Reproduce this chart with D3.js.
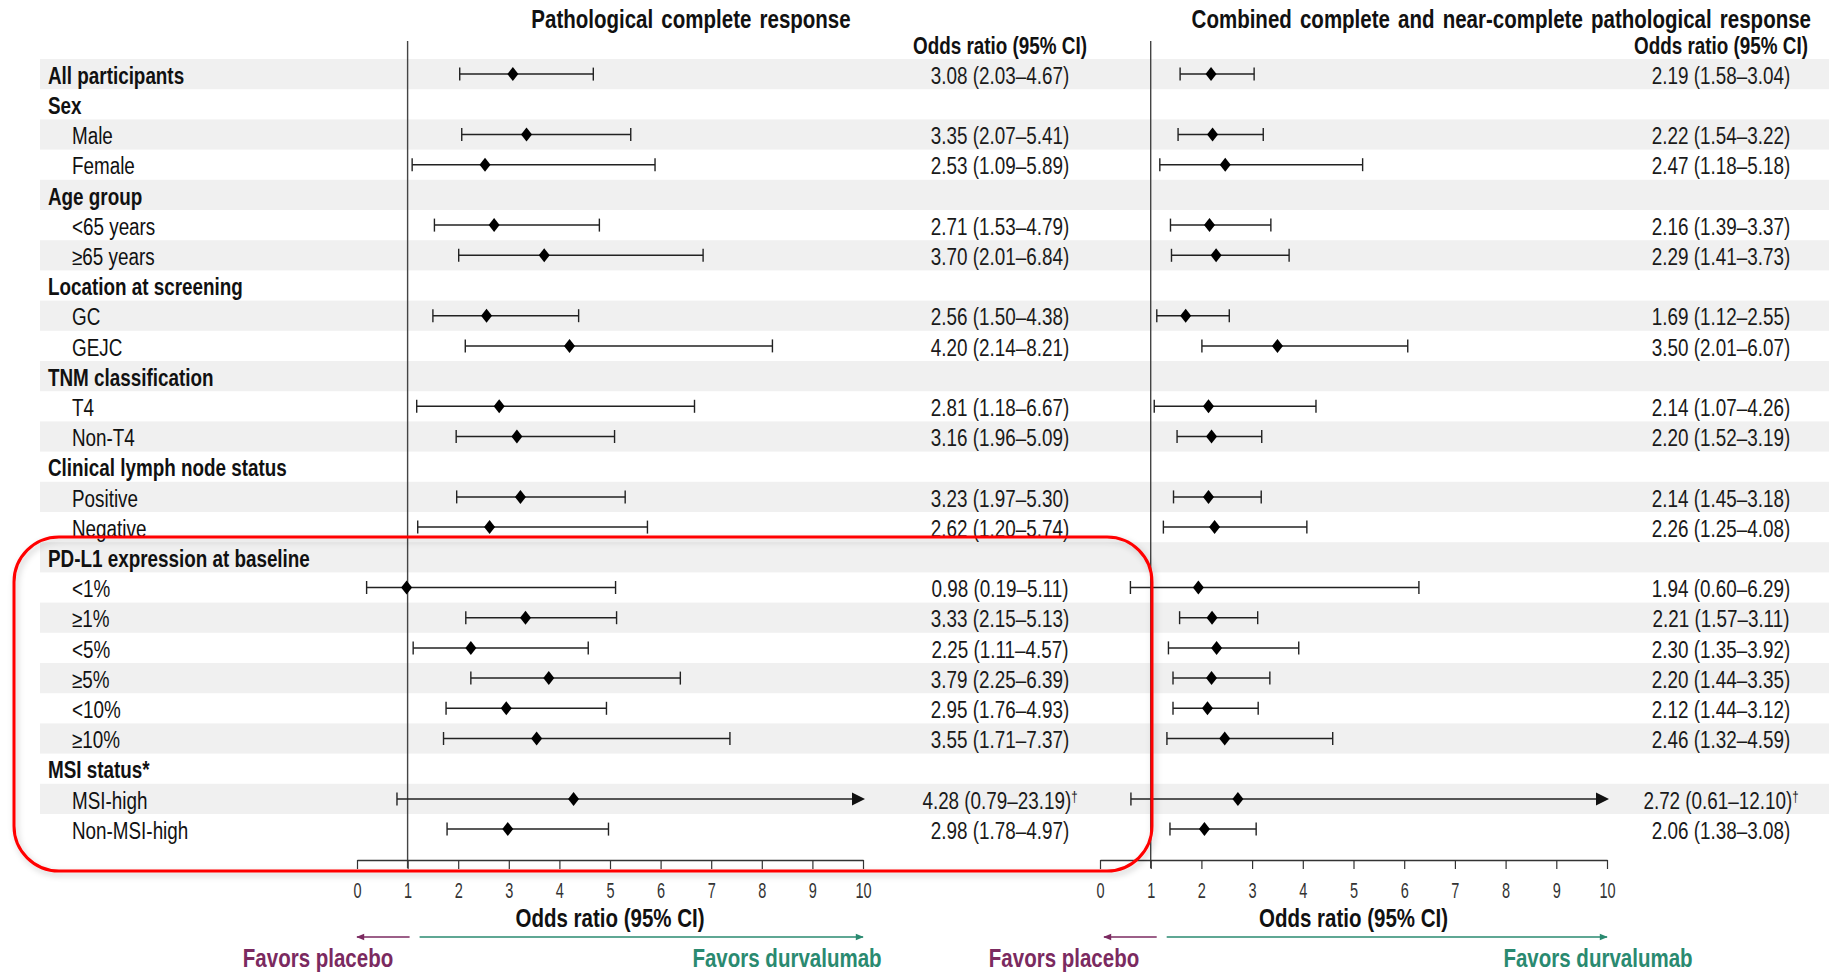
<!DOCTYPE html>
<html>
<head>
<meta charset="utf-8">
<script src="https://cdn.jsdelivr.net/npm/d3@7"></script>
<style>
  html, body { margin: 0; padding: 0; background: #fff; }
  svg { display: block; }
</style>
</head>
<body>
<svg id="chart" width="1829" height="975"></svg>
<script>
// Subgroup labels, one per row (header rows have no estimate)
const rowLabels = [
  "All participants", "Sex", "Male", "Female", "Age group", "<65 years", "\u226565 years",
  "Location at screening", "GC", "GEJC", "TNM classification", "T4", "Non-T4",
  "Clinical lymph node status", "Positive", "Negative", "PD-L1 expression at baseline",
  "<1%", "\u22651%", "<5%", "\u22655%", "<10%", "\u226510%", "MSI status*", "MSI-high", "Non-MSI-high"
];
const headerRows = [true, true, false, false, true, false, false, true, false, false, true, false, false,
  true, false, false, true, false, false, false, false, false, false, true, false, false];

// Pathological complete response: odds ratio and 95% CI
const pcrOR   = [3.08, null, 3.35, 2.53, null, 2.71, 3.70, null, 2.56, 4.20, null, 2.81, 3.16,
  null, 3.23, 2.62, null, 0.98, 3.33, 2.25, 3.79, 2.95, 3.55, null, 4.28, 2.98];
const pcrLow  = [2.03, null, 2.07, 1.09, null, 1.53, 2.01, null, 1.50, 2.14, null, 1.18, 1.96,
  null, 1.97, 1.20, null, 0.19, 2.15, 1.11, 2.25, 1.76, 1.71, null, 0.79, 1.78];
const pcrHigh = [4.67, null, 5.41, 5.89, null, 4.79, 6.84, null, 4.38, 8.21, null, 6.67, 5.09,
  null, 5.30, 5.74, null, 5.11, 5.13, 4.57, 6.39, 4.93, 7.37, null, 23.19, 4.97];

// Combined complete and near-complete pathological response
const cpcrOR   = [2.19, null, 2.22, 2.47, null, 2.16, 2.29, null, 1.69, 3.50, null, 2.14, 2.20,
  null, 2.14, 2.26, null, 1.94, 2.21, 2.30, 2.20, 2.12, 2.46, null, 2.72, 2.06];
const cpcrLow  = [1.58, null, 1.54, 1.18, null, 1.39, 1.41, null, 1.12, 2.01, null, 1.07, 1.52,
  null, 1.45, 1.25, null, 0.60, 1.57, 1.35, 1.44, 1.44, 1.32, null, 0.61, 1.38];
const cpcrHigh = [3.04, null, 3.22, 5.18, null, 3.37, 3.73, null, 2.55, 6.07, null, 4.26, 3.19,
  null, 3.18, 4.08, null, 6.29, 3.11, 3.92, 3.35, 3.12, 4.59, null, 12.10, 3.08];

// Footnote marks appended to the estimate text
const footnoteMarks = ["", "", "", "", "", "", "", "", "", "", "", "", "",
  "", "", "", "", "", "", "", "", "", "", "", "\u2020", ""];

const axisTicks = [0, 1, 2, 3, 4, 5, 6, 7, 8, 9, 10];
const panelTitles = ["Pathological complete response", "Combined complete and near-complete pathological response"];
const columnHeader = "Odds ratio (95% CI)";
const axisTitle = "Odds ratio (95% CI)";
const favorLabels = ["Favors placebo", "Favors durvalumab"];

// Narrow face: Arial-metric sans squeezed horizontally
const FONT = "'Liberation Sans', Arial, sans-serif";
const NARROW = 0.82;
const PURPLE = "#7b2a60";
const TEAL = "#2a8a70";
const TEXT_DY = 9.6;

const svg = d3.select("#chart");
svg.attr("font-family", FONT);

function label(parent, x, y, s, o = {}) {
  return parent.append("text")
    .attr("transform", `translate(${x},${y}) scale(${o.sx || NARROW},1)`)
    .attr("text-anchor", o.anchor || "start")
    .attr("font-size", o.size || 23)
    .attr("font-weight", o.weight || "normal")
    .attr("word-spacing", o.wordSpacing || 0)
    .attr("fill", o.fill || "#111")
    .text(s);
}

const defs = svg.append("defs");
const shadow = defs.append("filter").attr("id", "soft-shadow")
  .attr("x", "-5%").attr("y", "-5%").attr("width", "110%").attr("height", "115%");
shadow.append("feDropShadow").attr("dx", 2).attr("dy", 3).attr("stdDeviation", 3)
  .attr("flood-color", "#000").attr("flood-opacity", 0.22);

[["arrow-purple", PURPLE], ["arrow-teal", TEAL]].forEach(([id, col]) => {
  defs.append("marker").attr("id", id)
    .attr("viewBox", "0 -5 10 10").attr("refX", 9).attr("refY", 0)
    .attr("markerWidth", 9).attr("markerHeight", 8).attr("markerUnits", "userSpaceOnUse")
    .attr("orient", "auto")
    .append("path").attr("d", "M0,-4L10,0L0,4Z").attr("fill", col);
});

// Row positions
const y = d3.scaleBand().domain(d3.range(rowLabels.length)).range([59, 59 + 30.2 * rowLabels.length]).padding(0);
const yc = i => y(i) + y.bandwidth() / 2;

// Alternating row shading
svg.append("g").selectAll("rect")
  .data(d3.range(rowLabels.length).filter(i => i % 2 === 0))
  .join("rect")
  .attr("x", 40).attr("width", 1829 - 40)
  .attr("y", i => y(i)).attr("height", y.bandwidth())
  .attr("fill", "#f0f0f0");

// Row labels
svg.append("g").selectAll("text")
  .data(rowLabels)
  .join("text")
  .attr("transform", (d, i) => `translate(${headerRows[i] ? 48 : 72},${yc(i) + TEXT_DY}) scale(${NARROW},1)`)
  .attr("font-size", 23)
  .attr("font-weight", (d, i) => headerRows[i] ? "bold" : "normal")
  .attr("fill", "#111")
  .text(d => d);

const axisY = 860;
const panels = [
  { range: [357, 863], title: panelTitles[0], titleX: 691, titleAnchor: "middle",
    valueX: 1000, or: pcrOR, lo: pcrLow, hi: pcrHigh,
    placeboX: 318, durvaX: 787, purpleOff: [0, 2], tealOff: 12 },
  { range: [1100, 1607], title: panelTitles[1], titleX: 1811, titleAnchor: "end",
    valueX: 1721, or: cpcrOR, lo: cpcrLow, hi: cpcrHigh,
    placeboX: 1064, durvaX: 1598, purpleOff: [4, 6], tealOff: 16 }
];

const fmt = d3.format(".2f");

panels.forEach(p => {
  const x = d3.scaleLinear().domain([0, 10]).range(p.range);
  const g = svg.append("g");

  // Panel title and estimate column header
  label(g, p.titleX, 28, p.title, { size: 25, weight: "bold", anchor: p.titleAnchor, wordSpacing: 3 });
  label(g, p.valueX, 54, columnHeader, { size: 23, weight: "bold", anchor: "middle" });

  // Reference line at OR = 1
  g.append("line")
    .attr("x1", x(1)).attr("x2", x(1))
    .attr("y1", 41).attr("y2", axisY + 8)
    .attr("stroke", "#444").attr("stroke-width", 1.4);

  // Axis
  const axis = d3.axisBottom(x).tickValues(axisTicks).tickSize(9).tickSizeOuter(0).tickPadding(6)
    .tickFormat(d3.format("d"));
  const ag = g.append("g").attr("transform", `translate(0,${axisY})`).call(axis);
  ag.select(".domain").attr("stroke", "#333").attr("stroke-width", 1.4);
  ag.selectAll(".tick line").attr("stroke", "#333").attr("stroke-width", 1.2);
  ag.selectAll(".tick text")
    .attr("font-size", 22).attr("font-family", FONT).attr("fill", "#333")
    .attr("y", 0).attr("dy", null)
    .attr("transform", "translate(0,38) scale(0.66,1)");

  label(g, (p.range[0] + p.range[1]) / 2, 927, axisTitle, { size: 25, weight: "bold", anchor: "middle" });

  // Direction arrows
  g.append("line")
    .attr("x1", x(1) + p.purpleOff[1]).attr("x2", x(0) + p.purpleOff[0])
    .attr("y1", 937).attr("y2", 937)
    .attr("stroke", PURPLE).attr("stroke-width", 1.6)
    .attr("marker-end", "url(#arrow-purple)");
  g.append("line")
    .attr("x1", x(1) + p.tealOff).attr("x2", x(10))
    .attr("y1", 937).attr("y2", 937)
    .attr("stroke", TEAL).attr("stroke-width", 1.6)
    .attr("marker-end", "url(#arrow-teal)");
  label(g, p.placeboX, 967, favorLabels[0], { size: 25, weight: "bold", anchor: "middle", fill: PURPLE });
  label(g, p.durvaX, 967, favorLabels[1], { size: 25, weight: "bold", anchor: "middle", fill: TEAL });

  // Estimates with confidence intervals
  const rows = d3.range(rowLabels.length).filter(i => p.or[i] != null);
  const maxX = x.domain()[1];

  const ci = g.append("g").selectAll("g").data(rows).join("g")
    .attr("transform", i => `translate(0,${yc(i)})`);

  ci.append("line")
    .attr("x1", i => x(p.lo[i]))
    .attr("x2", i => p.hi[i] > maxX ? x(maxX) - 10 : x(p.hi[i]))
    .attr("stroke", "#222").attr("stroke-width", 1.5);

  ci.append("line")
    .attr("x1", i => x(p.lo[i])).attr("x2", i => x(p.lo[i]))
    .attr("y1", -6.5).attr("y2", 6.5)
    .attr("stroke", "#222").attr("stroke-width", 1.4);

  ci.filter(i => p.hi[i] <= maxX).append("line")
    .attr("x1", i => x(p.hi[i])).attr("x2", i => x(p.hi[i]))
    .attr("y1", -6.5).attr("y2", 6.5)
    .attr("stroke", "#222").attr("stroke-width", 1.4);

  // Interval runs past the axis: arrowhead at the axis limit
  ci.filter(i => p.hi[i] > maxX).append("path")
    .attr("d", () => {
      const tip = x(maxX) + 2;
      return `M${tip - 13},-6.5L${tip},0L${tip - 13},6.5Z`;
    })
    .attr("fill", "#111");

  ci.append("path")
    .attr("transform", i => `translate(${x(p.or[i])},0)`)
    .attr("d", "M0,-7L5.5,0L0,7L-5.5,0Z")
    .attr("fill", "#000");

  // Estimate text
  const vt = g.append("g").selectAll("text").data(rows).join("text")
    .attr("transform", i => `translate(${p.valueX},${yc(i) + TEXT_DY}) scale(${NARROW},1)`)
    .attr("text-anchor", "middle")
    .attr("font-size", 23).attr("fill", "#1a1a1a");
  vt.append("tspan").text(i => `${fmt(p.or[i])} (${fmt(p.lo[i])}\u2013${fmt(p.hi[i])})`);
  vt.filter(i => footnoteMarks[i]).append("tspan")
    .attr("dy", "-0.5em").attr("font-size", 14)
    .text(i => footnoteMarks[i]);
});

// Highlight around the PD-L1 and MSI subgroups
svg.append("rect")
  .attr("x", 14).attr("y", 537).attr("width", 1138).attr("height", 334)
  .attr("rx", 45).attr("ry", 45)
  .attr("fill", "none").attr("stroke", "#ff0000").attr("stroke-width", 3)
  .attr("filter", "url(#soft-shadow)");
</script>
</body>
</html>
